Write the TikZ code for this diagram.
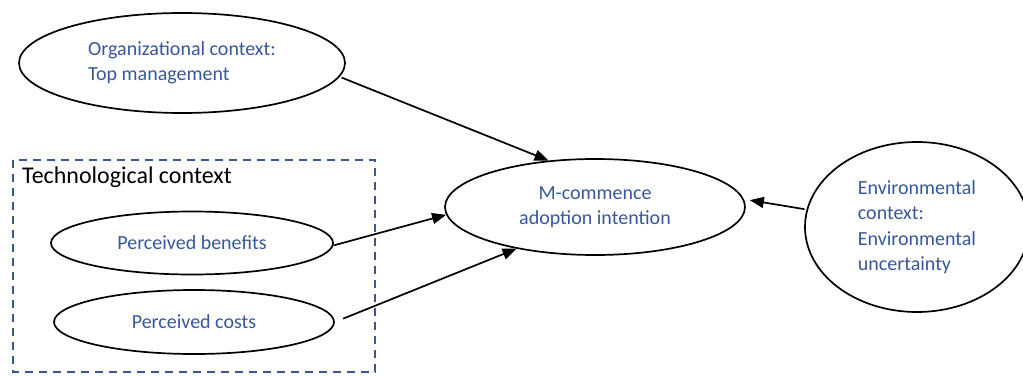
\documentclass[tikz,border=0pt]{standalone}
\usepackage{fontspec}
\setmainfont{Carlito}
\usetikzlibrary{shapes.geometric,arrows.meta}
\definecolor{txtblue}{RGB}{55,87,155}
\definecolor{boxblue}{RGB}{60,85,150}
\tikzset{
  construct/.style={ellipse, draw=black, line width=1.7pt, inner sep=0pt,
    text=txtblue, font=\fontsize{20}{25.5}\selectfont, align=left},
  link/.style={line width=1.7pt, -{Triangle[length=14pt,width=11pt]}},
  groupbox/.style={draw=boxblue, line width=1.3pt, dash pattern=on 8pt off 6pt},
}
\begin{document}
\begin{tikzpicture}[x=1pt,y=-1pt]
\useasboundingbox (0,0) rectangle (1023,375);

% technological context group
\draw[groupbox] (13,160) rectangle (375,372);
\node[anchor=west, font=\fontsize{24}{28}\selectfont, inner sep=0pt] (techlabel) at (22,177) {Technological context};

% constructs
\node[construct, minimum width=326pt, minimum height=100pt] (org) at (182,63)
  {Organizational context:\\Top management};
\node[construct, minimum width=282pt, minimum height=63pt, align=center] (ben) at (192,243)
  {Perceived benefits};
\node[construct, minimum width=280pt, minimum height=64pt, align=center] (cost) at (194,322)
  {Perceived costs};
\node[construct, minimum width=300pt, minimum height=96pt, align=center] (mc) at (595,207)
  {M-commence\\adoption intention};
\node[construct, minimum width=224pt, minimum height=170pt] (env) at (917,227)
  {Environmental\\context:\\Environmental\\uncertainty};

% relations
\draw[link, shorten <=2pt] (org.-5) -- (mc.135);
\draw[link] (ben.-1) -- (mc.183);
\draw[link, shorten <=9pt] (cost.0) -- (mc.208);
\draw[link, shorten <=2pt, shorten >=6pt] (env.171) -- (mc.3);
\end{tikzpicture}
\end{document}
